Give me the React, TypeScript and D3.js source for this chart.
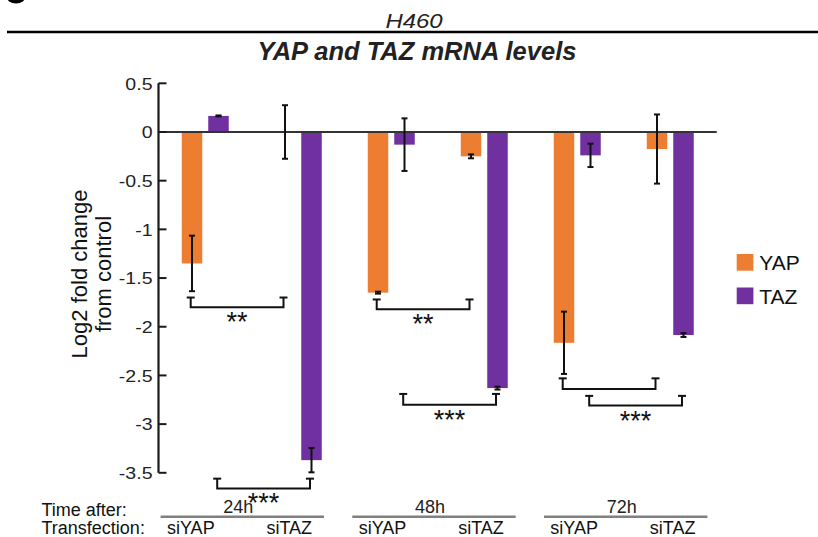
import React from 'react';
import * as d3 from 'd3';

const conditions = ['24h siYAP', '24h siTAZ', '48h siYAP', '48h siTAZ', '72h siYAP', '72h siTAZ'];
const series = ['YAP', 'TAZ'];
const yapMeans = [-1.35, 0.0, -1.65, -0.25, -2.165, -0.175];
const yapErrors = [0.285, 0.275, 0.01, 0.02, 0.32, 0.355];
const tazMeans = [0.165, -3.37, -0.13, -2.63, -0.24, -2.085];
const tazErrors = [0.005, 0.125, 0.27, 0.015, 0.12, 0.02];
const yTicks = [0.5, 0, -0.5, -1, -1.5, -2, -2.5, -3, -3.5];
const timeLabels = ['24h', '48h', '72h'];
const transfectionLabels = ['siYAP', 'siTAZ'];
const brackets = [
  { from: 0, to: 1, series: 'YAP', cap: -1.7, bar: -1.8, label: '**' },
  { from: 0, to: 1, series: 'TAZ', cap: -3.56, bar: -3.66, label: '***' },
  { from: 2, to: 3, series: 'YAP', cap: -1.72, bar: -1.82, label: '**' },
  { from: 2, to: 3, series: 'TAZ', cap: -2.69, bar: -2.8, label: '***' },
  { from: 4, to: 5, series: 'YAP', cap: -2.53, bar: -2.64, label: '' },
  { from: 4, to: 5, series: 'TAZ', cap: -2.71, bar: -2.81, label: '***' },
];

const colors: Record<string, string> = { YAP: '#ED7D31', TAZ: '#7030A0' };
const FONT = '"Liberation Sans", Arial, Helvetica, sans-serif';

export default function App() {
  const y = d3.scaleLinear().domain([0.5, -3.5]).range([83.3, 472.8]);
  const x = d3.scaleBand().domain(conditions).range([158.75, 716.75]);
  const inner = d3.scalePoint().domain(series).range([33.25, 59.75]);
  const barW = 20.5;
  const timeX = d3.scalePoint().domain(timeLabels).range([242.3, 625.7]);
  const transX = d3.scalePoint().domain(transfectionLabels).range([-51.5, 47]);

  const means: Record<string, number[]> = { YAP: yapMeans, TAZ: tazMeans };
  const errs: Record<string, number[]> = { YAP: yapErrors, TAZ: tazErrors };
  const cx = (ci: number, s: string) => (x(conditions[ci]) as number) + (inner(s) as number);

  const axisX = 158.5;
  const y0 = y(0);

  return (
    <svg width={818} height={537} style={{ position: 'absolute', left: 0, top: 0, background: '#fff' }} fontFamily={FONT}>
      <rect x={0} y={0} width={818} height={537} fill="#fff" />
      {/* partial panel letter */}
      <ellipse cx={16} cy={-3.5} rx={9.5} ry={7} fill="#000" />
      {/* header */}
      <text transform="translate(414,27.5) scale(1.14,1)" textAnchor="middle" fontStyle="italic" fontSize={21} fill="#222">H460</text>
      <line x1={7} x2={818} y1={32} y2={32} stroke="#000" strokeWidth={2.7} />
      <text x={417} y={60} textAnchor="middle" fontStyle="italic" fontWeight="bold" fontSize={25.5} fill="#222">YAP and TAZ mRNA levels</text>

      {/* bars */}
      {series.map((s) =>
        conditions.map((c, i) => {
          const v = means[s][i];
          const top = Math.min(y(v), y0);
          const h = Math.abs(y(v) - y0);
          return <rect key={s + c} x={cx(i, s) - barW / 2} y={top} width={barW} height={h} fill={colors[s]} />;
        })
      )}

      {/* zero line */}
      <line x1={axisX} x2={716.75} y1={y0} y2={y0} stroke="#333" strokeWidth={2.2} />

      {/* error bars */}
      {series.map((s) =>
        conditions.map((c, i) => {
          const v = means[s][i];
          const e = errs[s][i];
          const px = cx(i, s);
          const a = y(v + e);
          const b = y(v - e);
          return (
            <g key={'e' + s + c} stroke="#111" strokeWidth={2}>
              <line x1={px} x2={px} y1={a} y2={b} />
              <line x1={px - 3} x2={px + 3} y1={a} y2={a} />
              <line x1={px - 3} x2={px + 3} y1={b} y2={b} />
            </g>
          );
        })
      )}

      {/* y axis */}
      <line x1={axisX} x2={axisX} y1={y(0.5)} y2={y(-3.5)} stroke="#1a1a1a" strokeWidth={2.2} />
      {yTicks.map((t) => (
        <g key={'t' + t}>
          <line x1={axisX} x2={axisX + 8} y1={y(t)} y2={y(t)} stroke="#1a1a1a" strokeWidth={2} />
          <text transform={`translate(152.5,${y(t) + 6.2}) scale(1.15,1)`} textAnchor="end" fontSize={17} fill="#222">
            {String(t)}
          </text>
        </g>
      ))}
      <text transform="translate(87.3,274) rotate(-90)" textAnchor="middle" fontSize={22} fill="#111">Log2 fold change</text>
      <text transform="translate(110.5,274) rotate(-90)" textAnchor="middle" fontSize={22} fill="#111">from control</text>

      {/* significance brackets */}
      {brackets.map((br, k) => {
        const x1 = cx(br.from, br.series) - 1.3;
        const x2 = cx(br.to, br.series) - 1.5;
        const yc = y(br.cap);
        const yb = y(br.bar);
        return (
          <g key={'b' + k}>
            <g stroke="#111" strokeWidth={2} fill="none">
              <line x1={x1 - 4} x2={x1 + 4} y1={yc} y2={yc} />
              <line x1={x2 - 4} x2={x2 + 4} y1={yc} y2={yc} />
              <path d={`M${x1},${yc}V${yb}H${x2}V${yc}`} />
            </g>
            {br.label && (
              <text x={(x1 + x2) / 2} y={yb + 24} textAnchor="middle" fontSize={27} fill="#111">{br.label}</text>
            )}
          </g>
        );
      })}

      {/* legend */}
      {series.map((s, i) => (
        <g key={'l' + s} transform={`translate(736.7,${254 + i * 33.5})`}>
          <rect x={0} y={0} width={16.7} height={16.7} fill={colors[s]} />
          <text x={22.5} y={16} fontSize={21} fill="#111">{s}</text>
        </g>
      ))}

      {/* bottom labels */}
      <text x={41.5} y={515.5} fontSize={18} fill="#111">Time after:</text>
      <text x={41.5} y={534.3} fontSize={18} fill="#111">Transfection:</text>
      {timeLabels.map((t) => {
        const c = timeX(t) as number;
        return (
          <g key={'g' + t}>
            <line x1={c - 81.7} x2={c + 81.7} y1={516.7} y2={516.7} stroke="#808080" strokeWidth={2.6} />
            <text x={c - 4} y={513} textAnchor="middle" fontSize={18} fill="#222">{t}</text>
            {transfectionLabels.map((tl) => (
              <text key={tl} x={c + (transX(tl) as number)} y={533.5} textAnchor="middle" fontSize={18} fill="#111">{tl}</text>
            ))}
          </g>
        );
      })}
    </svg>
  );
}
